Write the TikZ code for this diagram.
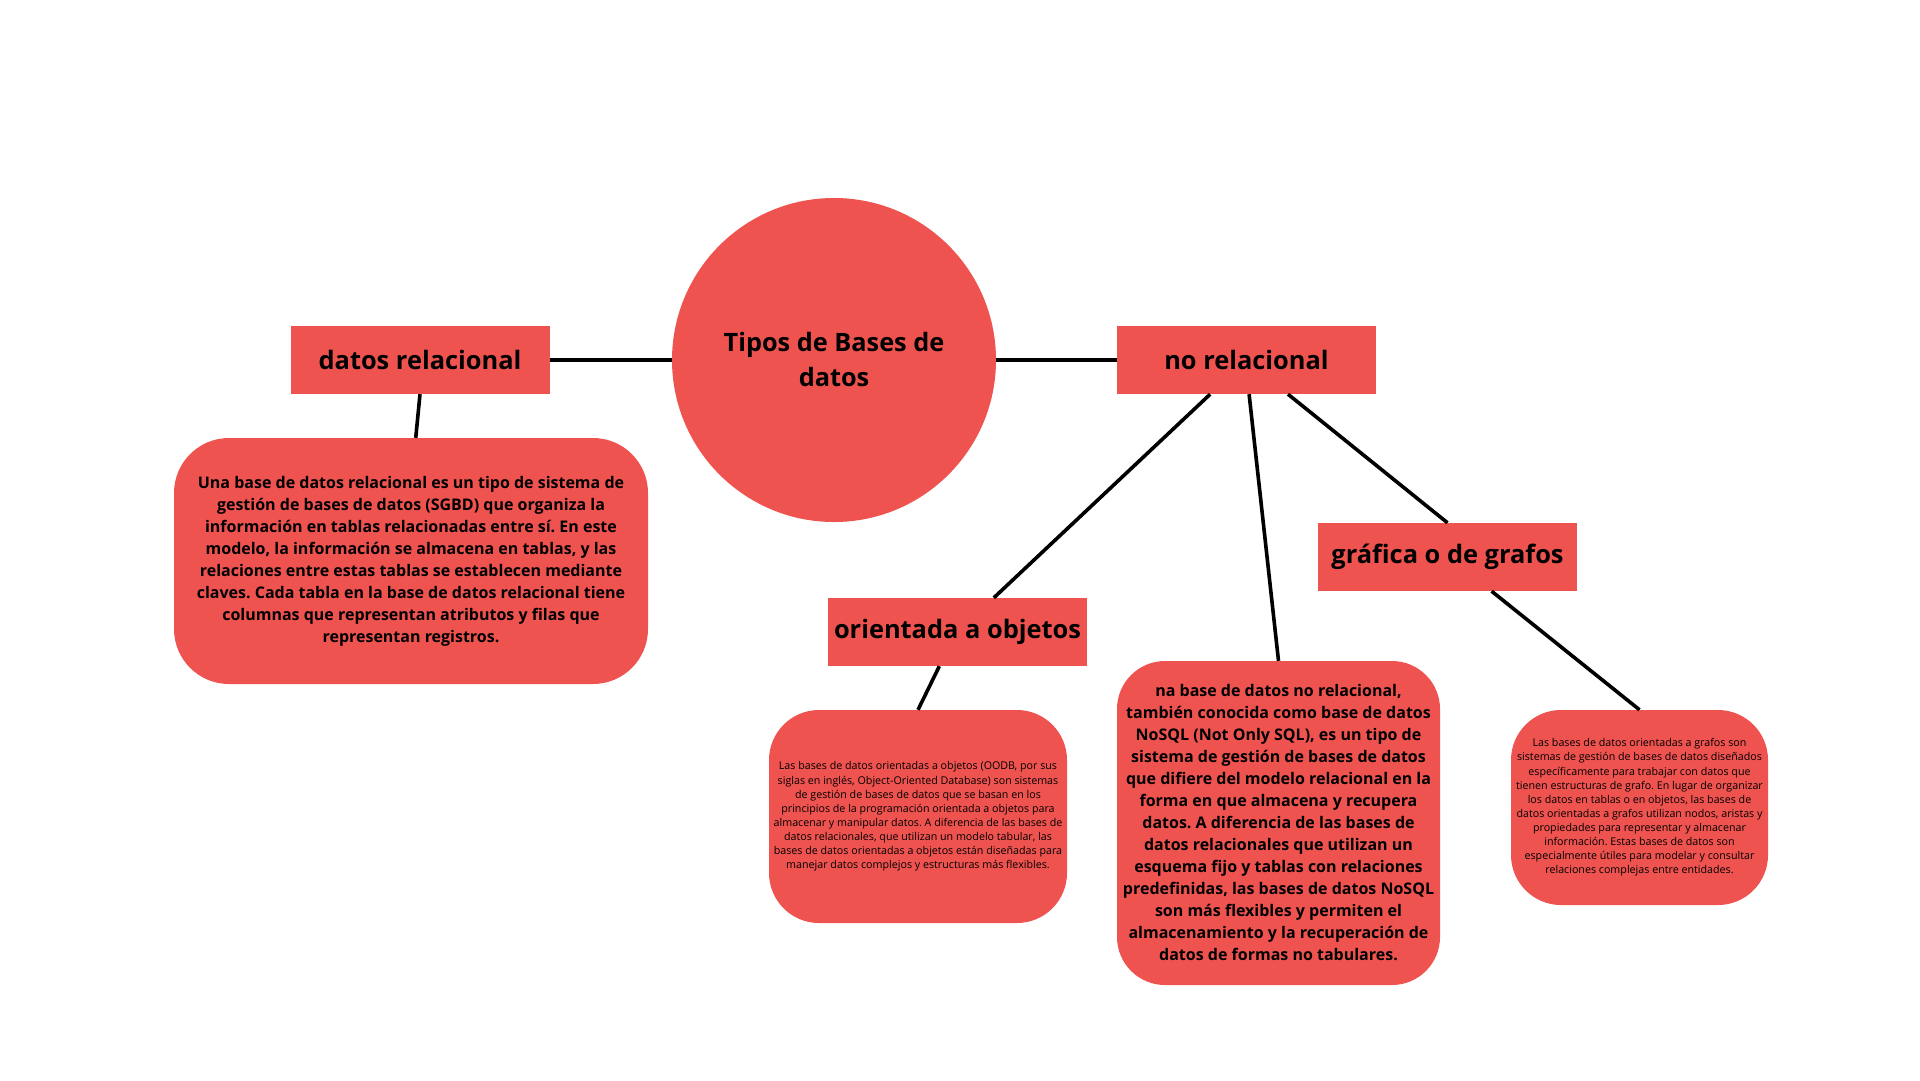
\documentclass[tikz,border=0pt]{standalone}
\usepackage{fontspec}
\setmainfont{Open Sans}
\usetikzlibrary{calc}
\frenchspacing
\definecolor{boxred}{RGB}{239,83,80}
\tikzset{
  conn/.style={line width=3.6pt, black},
  headbox/.style={fill=boxred, draw=none, minimum width=259pt, minimum height=68pt, inner sep=0pt,
    font=\fontsize{25.4}{30}\selectfont\bfseries, align=center},
  bigtext/.style={fill=boxred, draw=none, inner sep=0pt, align=center,
    font=\fontsize{16}{22}\selectfont\bfseries},
  smalltext/.style={fill=boxred, draw=none, inner sep=0pt, align=center,
    font=\fontsize{10.7}{14.1}\selectfont},
}
\begin{document}
\begin{tikzpicture}[x=1pt,y=-1pt]
\useasboundingbox[fill=white] (0,0) rectangle (1920,1080);

\node[circle, fill=boxred, minimum size=324pt, inner sep=0pt, align=center,
  font=\fontsize{25.3}{35}\selectfont\bfseries] (c) at (834,360) {Tipos de Bases de\\datos};

\node[headbox] (drel) at (420,360) {datos relacional};
\node[headbox] (nrel) at (1246.5,360) {no relacional};
\node[headbox] (obj) at (957.5,632) {orientada a objetos};
\node[headbox] (graf) at (1447.5,557) {gráfica o de grafos};

\node[bigtext, rounded corners=55pt, minimum width=474pt, minimum height=246pt] (relbox) at (411,561)
 {Una base de datos relacional es un tipo de sistema de\\
  gestión de bases de datos (SGBD) que organiza la\\
  información en tablas relacionadas entre sí. En este\\
  modelo, la información se almacena en tablas, y las\\
  relaciones entre estas tablas se establecen mediante\\
  claves. Cada tabla en la base de datos relacional tiene\\
  columnas que representan atributos y filas que\\
  representan registros.};

\node[smalltext, rounded corners=50pt, minimum width=298pt, minimum height=213pt] (objbox) at (918,816.5)
 {Las bases de datos orientadas a objetos (OODB, por sus\\
  siglas en inglés, Object-Oriented Database) son sistemas\\
  de gestión de bases de datos que se basan en los\\
  principios de la programación orientada a objetos para\\
  almacenar y manipular datos. A diferencia de las bases de\\
  datos relacionales, que utilizan un modelo tabular, las\\
  bases de datos orientadas a objetos están diseñadas para\\
  manejar datos complejos y estructuras más flexibles.};

\node[bigtext, rounded corners=48pt, minimum width=323pt, minimum height=324pt] (nosql) at (1278.5,823)
 {na base de datos no relacional,\\
  también conocida como base de datos\\
  NoSQL (Not Only SQL), es un tipo de\\
  sistema de gestión de bases de datos\\
  que difiere del modelo relacional en la\\
  forma en que almacena y recupera\\
  datos. A diferencia de las bases de\\
  datos relacionales que utilizan un\\
  esquema fijo y tablas con relaciones\\
  predefinidas, las bases de datos NoSQL\\
  son más flexibles y permiten el\\
  almacenamiento y la recuperación de\\
  datos de formas no tabulares.};

\node[smalltext, rounded corners=50pt, minimum width=257pt, minimum height=195pt] (grafbox) at (1639.5,807.5)
 {Las bases de datos orientadas a grafos son\\
  sistemas de gestión de bases de datos diseñados\\
  específicamente para trabajar con datos que\\
  tienen estructuras de grafo. En lugar de organizar\\
  los datos en tablas o en objetos, las bases de\\
  datos orientadas a grafos utilizan nodos, aristas y\\
  propiedades para representar y almacenar\\
  información. Estas bases de datos son\\
  especialmente útiles para modelar y consultar\\
  relaciones complejas entre entidades.};

\draw[conn] (drel.east) -- (c.west);
\draw[conn] (c.east) -- (nrel.west);
\draw[conn] ($(drel.south west)!0.5!(drel.south east)$) -- ($(relbox.north west)!0.51!(relbox.north east)$);
\draw[conn] ($(nrel.south west)!0.36!(nrel.south east)$) -- ($(obj.north west)!0.64!(obj.north east)$);
\draw[conn] ($(nrel.south west)!0.51!(nrel.south east)$) -- (nosql.north);
\draw[conn] ($(nrel.south west)!0.66!(nrel.south east)$) -- (graf.north);
\draw[conn] ($(obj.south west)!0.43!(obj.south east)$) -- (objbox.north);
\draw[conn] ($(graf.south west)!0.67!(graf.south east)$) -- (grafbox.north);
\end{tikzpicture}
\end{document}
